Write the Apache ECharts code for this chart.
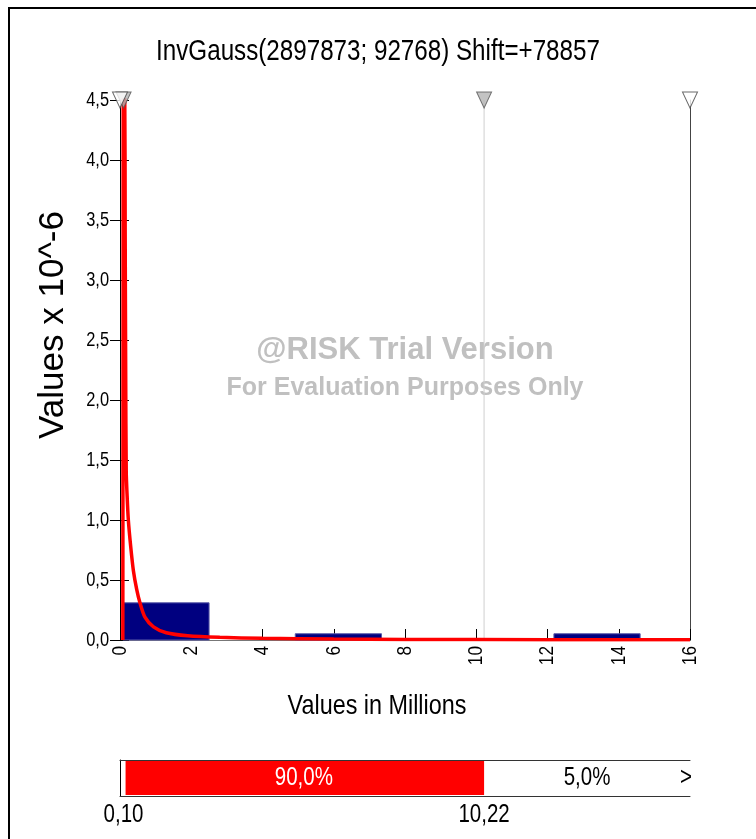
<!DOCTYPE html>
<html>
<head>
<meta charset="utf-8">
<script src="https://cdn.jsdelivr.net/npm/echarts@6/dist/echarts.min.js"></script>
<style>
html, body { margin: 0; padding: 0; background: #ffffff; }
#chart { width: 756px; height: 839px; }
</style>
</head>
<body>
<div id="chart"></div>
<script>
// Fitted distribution
const titleText = 'InvGauss(2897873; 92768) Shift=+78857';
const xAxisTitle = 'Values in Millions';
const yAxisTitle = 'Values x 10^-6';

// Axis ranges and tick labels (x in millions, y in 10^-6)
const xRange = [0, 16];
const xStep = 2;
const yRange = [0, 4.5];
const yStep = 0.5;
const xTickValues = [0, 2, 4, 6, 8, 10, 12, 14, 16];
const xTickLabels = ['0', '2', '4', '6', '8', '10', '12', '14', '16'];
const yTickValues = [0, 0.5, 1, 1.5, 2, 2.5, 3, 3.5, 4, 4.5];
const yTickLabels = ['0,0', '0,5', '1,0', '1,5', '2,0', '2,5', '3,0', '3,5', '4,0', '4,5'];

// Histogram of the input data: bin edges and densities
const binEdges = [0.08, 2.50, 4.92, 7.34, 9.76, 12.18, 14.60];
const binHeights = [0.31, 0, 0.052, 0, 0, 0.052];

// Density curve of the fitted distribution
const curveX = [0.079, 0.083, 0.087, 0.091, 0.13, 0.145, 0.16, 0.175, 0.20, 0.234, 0.30, 0.375, 0.47, 0.56, 0.70, 0.94, 1.30, 1.90, 2.80, 4.0, 6.0, 8.0, 12.0, 16.0];
const curveY = [0, 1.4, 3.0, 4.7, 4.7, 3.4, 2.2, 1.4, 1.2, 1.0, 0.78, 0.58, 0.42, 0.31, 0.19, 0.11, 0.06, 0.035, 0.022, 0.014, 0.008, 0.005, 0.003, 0.002];

// Delimiters and the probability band underneath
const leftDelimiter = 0.10;
const rightDelimiter = 10.22;
const delimiterLabels = ['0,10', '10,22'];
const bandLabels = ['90,0%', '5,0%'];

const SANS = '"Liberation Sans", Arial, sans-serif';
const NARROW_SCALE = 0.82; // horizontal squeeze for the condensed face

const chart = echarts.init(document.getElementById('chart'), null, { renderer: 'canvas' });

const plotGrid = { left: 120, top: 100, width: 570, height: 540 };
const bandGrid = { left: 120, top: 760, width: 570, height: 36 };

function narrowText(x, y, text, size, opts) {
  opts = opts || {};
  return {
    type: 'text', x: x, y: y, rotation: opts.rotation || 0,
    scaleX: NARROW_SCALE,
    style: {
      text: text, fill: opts.fill || '#000', font: size + 'px ' + SANS,
      align: opts.align || 'center', verticalAlign: opts.verticalAlign || 'middle'
    }
  };
}

const option = {
  animation: false,
  backgroundColor: '#ffffff',
  graphic: [
    { type: 'rect', z: 0, shape: { x: 9, y: 8, width: 820, height: 900 }, style: { fill: 'none', stroke: '#000', lineWidth: 2 } },
    { type: 'text', z: 1, x: 405, y: 350, style: { text: '@RISK Trial Version', fill: '#c0c0c0', font: 'bold 31px ' + SANS, align: 'center', verticalAlign: 'middle' } },
    { type: 'text', z: 1, x: 405, y: 388, style: { text: 'For Evaluation Purposes Only', fill: '#c0c0c0', font: 'bold 25px ' + SANS, align: 'center', verticalAlign: 'middle' } },
    Object.assign(narrowText(378, 52, titleText, 29.5), { z: 5 }),
    { type: 'text', z: 5, x: 53, y: 325, rotation: Math.PI / 2, style: { text: yAxisTitle, fill: '#000', font: '35px ' + SANS, align: 'center', verticalAlign: 'middle' } },
    Object.assign(narrowText(377, 706, xAxisTitle, 28.5), { z: 5 })
  ],
  grid: [
    Object.assign({ containLabel: false }, plotGrid),
    Object.assign({ containLabel: false }, bandGrid)
  ],
  xAxis: [
    { // main x axis
      type: 'value', gridIndex: 0, position: 'bottom', min: xRange[0], max: xRange[1], interval: xStep,
      axisLine: { show: true, lineStyle: { color: '#000', width: 1 } },
      axisTick: { show: true, inside: true, length: 11, lineStyle: { color: '#000' } },
      axisLabel: { show: false },
      splitLine: { show: false }
    },
    { // top frame line
      type: 'value', gridIndex: 0, position: 'top', min: xRange[0], max: xRange[1],
      axisLine: { show: true, lineStyle: { color: '#777', width: 1 } },
      axisTick: { show: false }, axisLabel: { show: false }, splitLine: { show: false }
    },
    { // band bottom line
      type: 'value', gridIndex: 1, position: 'bottom', min: xRange[0], max: xRange[1],
      axisLine: { show: true, lineStyle: { color: '#333', width: 1 } },
      axisTick: { show: false }, axisLabel: { show: false }, splitLine: { show: false }
    },
    { // band top line
      type: 'value', gridIndex: 1, position: 'top', min: xRange[0], max: xRange[1],
      axisLine: { show: true, lineStyle: { color: '#333', width: 1 } },
      axisTick: { show: false }, axisLabel: { show: false }, splitLine: { show: false }
    }
  ],
  yAxis: [
    { // main y axis, outer half of the ticks
      type: 'value', gridIndex: 0, position: 'left', min: yRange[0], max: yRange[1], interval: yStep,
      axisLine: { show: true, lineStyle: { color: '#000', width: 1 } },
      axisTick: { show: true, length: 10, lineStyle: { color: '#000' } },
      axisLabel: { show: false },
      splitLine: { show: false }
    },
    { // inner half of the y ticks
      type: 'value', gridIndex: 0, position: 'left', min: yRange[0], max: yRange[1], interval: yStep,
      axisLine: { show: false },
      axisTick: { show: true, inside: true, length: 9, lineStyle: { color: '#000' } },
      axisLabel: { show: false }, splitLine: { show: false }
    },
    { // right frame line
      type: 'value', gridIndex: 0, position: 'right', min: yRange[0], max: yRange[1],
      axisLine: { show: true, lineStyle: { color: '#444', width: 1 } },
      axisTick: { show: false }, axisLabel: { show: false }, splitLine: { show: false }
    },
    { // band left edge
      type: 'value', gridIndex: 1, position: 'left', min: 0, max: 1,
      axisLine: { show: true, lineStyle: { color: '#000', width: 1 } },
      axisTick: { show: false }, axisLabel: { show: false }, splitLine: { show: false }
    }
  ],
  series: [
    { // delimiter guide line
      type: 'custom', xAxisIndex: 0, yAxisIndex: 0, z: 2, silent: true,
      data: [[rightDelimiter]],
      encode: { x: 0 },
      renderItem: (params, api) => {
        const top = api.coord([api.value(0), yRange[1]]);
        const bottom = api.coord([api.value(0), yRange[0]]);
        return { type: 'line', shape: { x1: top[0], y1: top[1], x2: bottom[0], y2: bottom[1] }, style: { stroke: '#d0d0d0', lineWidth: 1 } };
      }
    },
    { // histogram
      type: 'custom', xAxisIndex: 0, yAxisIndex: 0, z: 3, silent: true,
      data: binHeights.map((h, i) => [binEdges[i], binEdges[i + 1], h]),
      encode: { x: [0, 1], y: 2 },
      renderItem: (params, api) => {
        const h = api.value(2);
        if (!(h > 0)) return null;
        const p0 = api.coord([api.value(0), h]);
        const p1 = api.coord([api.value(1), 0]);
        return {
          type: 'rect',
          shape: { x: p0[0], y: p0[1], width: p1[0] - p0[0], height: p1[1] - p0[1] },
          style: { fill: '#000080', stroke: '#5a5aa8', lineWidth: 1 }
        };
      }
    },
    { // fitted density
      type: 'line', xAxisIndex: 0, yAxisIndex: 0, z: 4, silent: true,
      data: curveX.map((x, i) => [x, curveY[i]]),
      showSymbol: false, smooth: 0.25, clip: true,
      lineStyle: { color: '#ff0000', width: 3.5 }
    },
    { // delimiter markers on the top edge
      type: 'scatter', xAxisIndex: 0, yAxisIndex: 0, z: 6, silent: true, clip: false,
      symbol: 'triangle', symbolRotate: 180, symbolSize: [15, 16],
      data: [
        { value: [leftDelimiter, yRange[1]], itemStyle: { color: '#b4b4b4', borderColor: '#555', borderWidth: 1 } },
        { value: [rightDelimiter, yRange[1]], itemStyle: { color: '#b4b4b4', borderColor: '#555', borderWidth: 1 } },
        { value: [xRange[0], yRange[1]], itemStyle: { color: '#ffffff', borderColor: '#444', borderWidth: 1 } },
        { value: [xRange[1], yRange[1]], itemStyle: { color: '#ffffff', borderColor: '#444', borderWidth: 1 } }
      ]
    },
    { // x tick labels, rotated
      type: 'custom', xAxisIndex: 0, yAxisIndex: 0, z: 5, silent: true, clip: false,
      data: xTickValues.map((v, i) => [v, yRange[0], i]),
      encode: { x: 0, y: 1 },
      renderItem: (params, api) => {
        const p = api.coord([api.value(0), api.value(1)]);
        return narrowText(p[0], p[1] + 6, xTickLabels[api.value(2)], 21, { rotation: Math.PI / 2, align: 'right' });
      }
    },
    { // y tick labels
      type: 'custom', xAxisIndex: 0, yAxisIndex: 0, z: 5, silent: true, clip: false,
      data: yTickValues.map((v, i) => [xRange[0], v, i]),
      encode: { x: 0, y: 1 },
      renderItem: (params, api) => {
        const p = api.coord([api.value(0), api.value(1)]);
        return narrowText(p[0] - 11, p[1], yTickLabels[api.value(2)], 20, { align: 'right' });
      }
    },
    { // probability band
      type: 'custom', xAxisIndex: 2, yAxisIndex: 3, z: 3, silent: true, clip: false,
      data: [[leftDelimiter, rightDelimiter, 0], [rightDelimiter, xRange[1], 1]],
      encode: { x: [0, 1] },
      renderItem: (params, api) => {
        const lo = api.value(0), hi = api.value(1);
        const p0 = api.coord([lo, 1]);
        const p1 = api.coord([hi, 0]);
        const midX = (p0[0] + p1[0]) / 2, midY = (p0[1] + p1[1]) / 2;
        const isCenter = params.dataIndex === 0;
        const children = [];
        if (isCenter) {
          children.push({ type: 'rect', shape: { x: p0[0] + 2, y: p0[1] + 1, width: p1[0] - p0[0] - 2, height: p1[1] - p0[1] - 2 }, style: { fill: '#ff0000' } });
        }
        children.push(narrowText(midX, midY, bandLabels[params.dataIndex], 25, { fill: isCenter ? '#ffffff' : '#000000' }));
        if (!isCenter) {
          children.push(narrowText(p1[0] + 2, midY, '>', 25, { align: 'right' }));
        }
        return { type: 'group', children };
      }
    },
    { // delimiter values under the band
      type: 'custom', xAxisIndex: 2, yAxisIndex: 3, z: 3, silent: true, clip: false,
      data: [[leftDelimiter, 0, 0], [rightDelimiter, 0, 1]],
      encode: { x: 0, y: 1 },
      renderItem: (params, api) => {
        const p = api.coord([api.value(0), api.value(1)]);
        return narrowText(p[0], p[1] + 19, delimiterLabels[api.value(2)], 25);
      }
    }
  ]
};

chart.setOption(option);
</script>
</body>
</html>
